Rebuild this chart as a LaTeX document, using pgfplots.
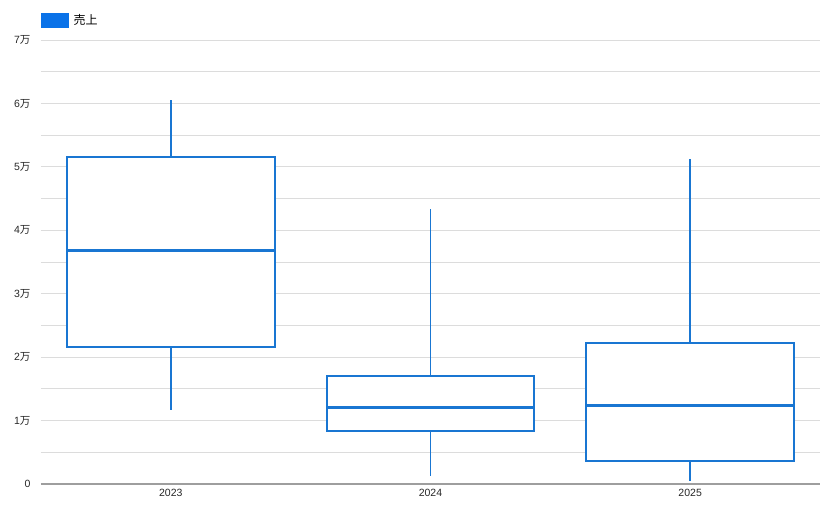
\documentclass[border=0pt]{standalone}
\usepackage{fontspec}
\setmainfont{Liberation Sans}
\newfontfamily\cjk{Noto Sans CJK JP}
\usepackage{pgfplots}
\pgfplotsset{compat=1.18}
\usepgfplotslibrary{statistics}
\definecolor{boxc}{HTML}{1976D2}
\definecolor{legc}{HTML}{0A72E8}
\definecolor{gridc}{HTML}{DCDCDC}
\definecolor{basec}{HTML}{9E9E9E}
\begin{document}
\begin{tikzpicture}
\useasboundingbox (-41pt,-41pt) rectangle (798pt,484pt);
\begin{axis}[
  at={(0pt,0pt)}, anchor=south west,
  scale only axis, width=779pt, height=444pt,
  xmin=-0.5, xmax=2.5, ymin=0, ymax=7,
  axis line style={draw=none},
  xtick={0,1,2}, xticklabels={2023,2024,2025},
  ytick={1,2,3,4,5,6,7},
  yticklabels={1{\cjk 万},2{\cjk 万},3{\cjk 万},4{\cjk 万},5{\cjk 万},6{\cjk 万},7{\cjk 万}},
  minor ytick={0.5,1.5,2.5,3.5,4.5,5.5,6.5},
  extra y ticks={0}, extra y tick labels={0},
  extra y tick style={grid style={draw=basec, line width=1.6pt}},
  ymajorgrids, yminorgrids,
  grid style={draw=gridc, line width=0.8pt},
  minor grid style={draw=gridc, line width=0.8pt},
  major tick length=0pt, minor tick length=0pt,
  tick label style={font=\fontsize{10.5}{12}\selectfont, text=black!85},
  yticklabel style={xshift=-7pt},
  xticklabel style={yshift=-2pt},
  clip=false,
  legend style={at={(0,1)}, anchor=west, yshift=20pt, draw=none, fill=none,
    inner sep=0pt, font=\fontsize{12}{14}\selectfont\cjk, legend cell align=left,
    nodes={inner xsep=5pt}},
  boxplot/draw direction=y,
  boxplot/whisker extend=0,
  boxplot/every box/.style={draw=boxc, line width=1.8pt, fill=white},
  boxplot/every whisker/.style={draw=boxc, line width=1.8pt},
  boxplot/every median/.style={draw=boxc, line width=2.8pt},
]
\addlegendimage{legend image code/.code={\fill[legc] (0pt,-7pt) rectangle (27pt,7pt);}}
\addlegendentry{売上}
% values in units of 10000 (万)
\addplot[boxplot prepared={lower whisker=1.170, lower quartile=2.165, median=3.675,
  upper quartile=5.160, upper whisker=6.060, draw position=0, box extend=0.8}]
  coordinates {};
\addplot[boxplot prepared={lower whisker=0.120, lower quartile=0.836, median=1.203,
  upper quartile=1.700, upper whisker=4.330, draw position=1, box extend=0.8}]
  coordinates {};
\addplot[boxplot prepared={lower whisker=0.040, lower quartile=0.368, median=1.240,
  upper quartile=2.220, upper whisker=5.125, draw position=2, box extend=0.8}]
  coordinates {};
\end{axis}
\end{tikzpicture}
\end{document}
